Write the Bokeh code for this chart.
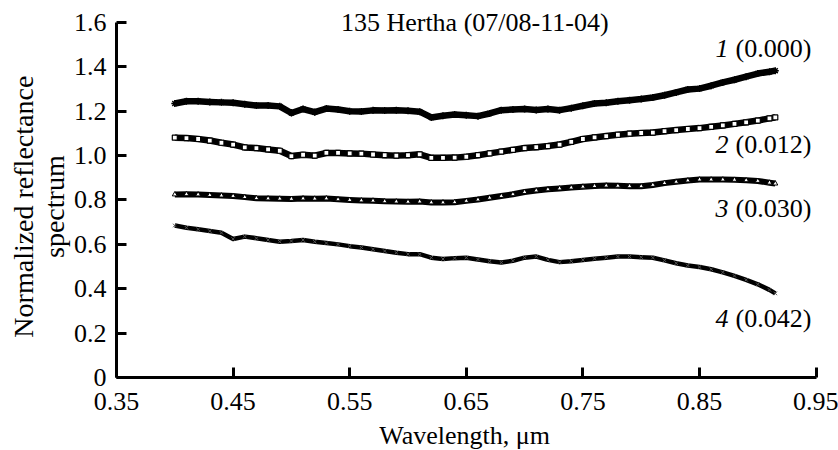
from bokeh.plotting import figure
from bokeh.models import Range1d, FixedTicker, Label
from bokeh.embed import file_html
from bokeh.resources import INLINE
import math

wavelength = [0.40, 0.41, 0.42, 0.43, 0.44, 0.45, 0.46, 0.47, 0.48, 0.49,
              0.50, 0.51, 0.52, 0.53, 0.54, 0.55, 0.56, 0.57, 0.58, 0.59,
              0.60, 0.61, 0.62, 0.63, 0.64, 0.65, 0.66, 0.67, 0.68, 0.69,
              0.70, 0.71, 0.72, 0.73, 0.74, 0.75, 0.76, 0.77, 0.78, 0.79,
              0.80, 0.81, 0.82, 0.83, 0.84, 0.85, 0.86, 0.87, 0.88, 0.89,
              0.90, 0.91, 0.915]

spec1 = [1.235, 1.245, 1.245, 1.242, 1.240, 1.238, 1.232, 1.226, 1.226, 1.222,
         1.192, 1.210, 1.196, 1.212, 1.208, 1.200, 1.199, 1.204, 1.203, 1.205,
         1.202, 1.198, 1.172, 1.180, 1.185, 1.182, 1.178, 1.190, 1.205, 1.208,
         1.210, 1.206, 1.210, 1.205, 1.214, 1.225, 1.235, 1.238, 1.245, 1.250,
         1.255, 1.262, 1.272, 1.285, 1.298, 1.302, 1.315, 1.330, 1.342, 1.356,
         1.370, 1.378, 1.383]

spec2 = [1.081, 1.079, 1.075, 1.068, 1.058, 1.050, 1.037, 1.034, 1.028, 1.022,
         0.998, 1.004, 1.000, 1.012, 1.012, 1.010, 1.009, 1.005, 1.002, 1.000,
         1.002, 1.006, 0.990, 0.990, 0.991, 0.995, 1.002, 1.010, 1.018, 1.026,
         1.034, 1.038, 1.043, 1.050, 1.062, 1.075, 1.082, 1.088, 1.094, 1.099,
         1.102, 1.104, 1.110, 1.115, 1.120, 1.124, 1.130, 1.136, 1.143, 1.150,
         1.158, 1.168, 1.172]

spec3 = [0.825, 0.826, 0.825, 0.822, 0.820, 0.818, 0.813, 0.808, 0.807, 0.806,
         0.805, 0.807, 0.806, 0.807, 0.803, 0.800, 0.798, 0.797, 0.794, 0.793,
         0.792, 0.793, 0.789, 0.789, 0.790, 0.796, 0.802, 0.810, 0.818, 0.826,
         0.836, 0.843, 0.848, 0.852, 0.856, 0.860, 0.863, 0.865, 0.864, 0.862,
         0.862, 0.868, 0.876, 0.882, 0.888, 0.892, 0.892, 0.892, 0.891, 0.889,
         0.886, 0.878, 0.874]

spec4 = [0.685, 0.675, 0.668, 0.660, 0.652, 0.624, 0.635, 0.628, 0.620, 0.612,
         0.615, 0.620, 0.612, 0.606, 0.600, 0.592, 0.586, 0.578, 0.570, 0.562,
         0.556, 0.556, 0.540, 0.534, 0.538, 0.540, 0.532, 0.524, 0.518, 0.526,
         0.540, 0.545, 0.530, 0.520, 0.524, 0.530, 0.535, 0.540, 0.545, 0.545,
         0.542, 0.540, 0.528, 0.515, 0.505, 0.498, 0.488, 0.474, 0.458, 0.440,
         0.420, 0.395, 0.379]

series_numbers = ["1", "2", "3", "4"]
series_params = ["(0.000)", "(0.012)", "(0.030)", "(0.042)"]
label_y = [1.483, 1.05, 0.76, 0.266]

x_ticks = [0.35, 0.45, 0.55, 0.65, 0.75, 0.85, 0.95]
y_ticks = [0, 0.2, 0.4, 0.6, 0.8, 1.0, 1.2, 1.4, 1.6]
y_tick_labels = ["0", "0.2", "0.4", "0.6", "0.8", "1.0", "1.2", "1.4", "1.6"]

title_text = "135 Hertha (07/08-11-04)"
x_label = "Wavelength, μm"
y_label_lines = ["Normalized reflectance", "spectrum"]

FONT = "Liberation Serif"
FS = "26px"

# frame spans the whole canvas; axes are pinned at x=0.35 / y=0
p = figure(width=838, height=450, output_backend="svg", toolbar_location=None,
           x_range=Range1d(0.25051, 0.96921), y_range=Range1d(-0.32901, 1.69915),
           min_border_left=0, min_border_right=0, min_border_top=0,
           min_border_bottom=0)
p.title.visible = False
p.outline_line_color = None
p.xgrid.visible = False
p.ygrid.visible = False

for ax in (p.xaxis[0], p.yaxis[0]):
    ax.axis_line_width = 3
    ax.major_tick_line_width = 3
    ax.major_tick_in = 10
    ax.major_tick_out = 0
    ax.minor_tick_line_color = None
    ax.major_label_text_font = FONT
    ax.major_label_text_font_size = FS
    ax.major_label_text_color = "black"
    ax.axis_line_color = "black"
    ax.major_tick_line_color = "black"

p.xaxis.ticker = FixedTicker(ticks=x_ticks)
p.yaxis.ticker = FixedTicker(ticks=y_ticks)
p.xaxis.fixed_location = 0
p.yaxis.fixed_location = 0.35
p.xaxis.bounds = (0.35, 0.95)
p.yaxis.bounds = (0, 1.6)
p.xaxis.major_label_overrides = {t: f"{t:.2f}" for t in x_ticks}
p.yaxis.major_label_overrides = {t: l for t, l in zip(y_ticks, y_tick_labels)}
p.xaxis.major_label_standoff = 15
p.yaxis.major_label_standoff = 10

widths = [6.5, 6.5, 6, 4.5]
for ys, w in zip([spec1, spec2, spec3, spec4], widths):
    p.line(wavelength, ys, line_color="black", line_width=w, line_join="round")

p.scatter(wavelength, spec2, marker="square", size=5, fill_color="white",
          line_color="black", line_width=1.2)
p.scatter(wavelength, spec3, marker="triangle", size=5, fill_color="white",
          line_color="black", line_width=1)
p.scatter(wavelength, spec4, marker="x", size=5, line_color="#555555", line_width=1)
p.scatter(wavelength, spec1, marker="asterisk", size=7, line_color="black", line_width=1.5)

for num, par, ly in zip(series_numbers, series_params, label_y):
    p.add_layout(Label(x=0.8637, y=ly, text=num, text_font=FONT, text_font_style="italic",
                       text_font_size=FS, text_baseline="middle", text_align="left",
                       text_color="black"))
    p.add_layout(Label(x=0.8637, y=ly, x_offset=20, text=par, text_font=FONT,
                       text_font_size=FS, text_baseline="middle", text_align="left",
                       text_color="black"))

p.add_layout(Label(x=0.772, y=1.6, text=title_text, text_font=FONT, text_font_size=FS,
                   text_baseline="middle", text_align="right", text_color="black"))
p.add_layout(Label(x=0.6485, y=-0.2614, text=x_label, text_font=FONT, text_font_size=FS,
                   text_baseline="middle", text_align="center", text_color="black"))
for lx, txt in zip([0.27024, 0.29683], y_label_lines):
    p.add_layout(Label(x=lx, y=0.77, text=txt, text_font=FONT, text_font_size="28px",
                       text_baseline="middle", text_align="center", angle=math.pi / 2,
                       text_color="black"))

open("out.html", "w").write(file_html(p, INLINE))
